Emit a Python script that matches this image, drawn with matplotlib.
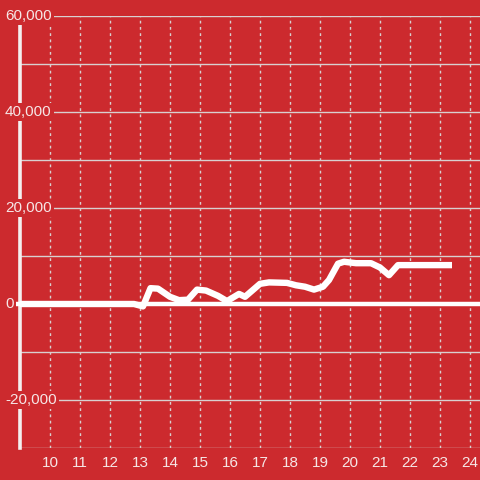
import matplotlib
matplotlib.use("Agg")
import matplotlib.pyplot as plt
import matplotlib.transforms as mtransforms

# ---- data ----
x_vals = [9.0, 12.8, 13.1, 13.35, 13.6, 14.0, 14.3, 14.6, 14.9, 15.2, 15.6, 15.9,
          16.3, 16.5, 17.0, 17.3, 17.9, 18.2, 18.5, 18.8, 19.1, 19.3, 19.6, 19.8,
          20.2, 20.7, 21.0, 21.3, 21.6, 23.4]
y_vals = [0, 0, -500, 3300, 3200, 1500, 800, 900, 3000, 2800, 1700, 600,
          2100, 1500, 4200, 4500, 4400, 3900, 3600, 3000, 3600, 5000, 8400, 8800,
          8500, 8500, 7600, 6000, 8100, 8100]
x_ticks = [10, 11, 12, 13, 14, 15, 16, 17, 18, 19, 20, 21, 22, 23, 24]
y_label_vals = [60000, 40000, 20000, 0, -20000]
y_grid_vals = [60000, 50000, 40000, 30000, 20000, 10000, -10000, -20000, -30000]

BG = "#cc2a2e"
GRID = "#d8d0d0"
TXT = "#f6e6e6"
W, H = 480, 480

fig = plt.figure(figsize=(4.8, 4.8), dpi=100, facecolor=BG)
ax = fig.add_axes([20 / W, (H - 448) / H, 460 / W, 432 / H])
ax.set_facecolor(BG)
ax.set_xlim(9, 24.333)
ax.set_ylim(-30000, 60000)

for s in ["top", "right", "bottom"]:
    ax.spines[s].set_visible(False)
ax.spines["left"].set_color("#f4f0f0")
ax.spines["left"].set_linewidth(2.6)
ax.spines["left"].set_zorder(3)

for gy in y_grid_vals:
    ax.axhline(gy, color=GRID, lw=1.0, zorder=1)
for gx in x_ticks:
    ax.axvline(gx, color=GRID, lw=1.0, ls=(0, (2, 2.5)), zorder=1)

# zero line
ax.axhline(0, xmin=-3 / 460, xmax=1, color="white", lw=3.2, zorder=4, clip_on=False)

ax.plot(x_vals, y_vals, color="white", lw=4.6, solid_joinstyle="round",
        solid_capstyle="butt", zorder=5)

ax.set_xticks(x_ticks)
ax.set_xticklabels([str(t) for t in x_ticks], color=TXT, fontsize=11,
                   family="Liberation Sans")
ax.tick_params(axis="x", length=0, pad=6)
ax.set_yticks([])

trans = mtransforms.blended_transform_factory(fig.transFigure, ax.transData)
for v in y_label_vals:
    ax.text(5 / W, v, f"{v:,}", transform=trans, ha="left", va="center",
            color=TXT, fontsize=11, family="Liberation Sans", zorder=10,
            bbox=dict(boxstyle="square,pad=0.15", fc=BG, ec="none"))

fig.savefig("out.png", dpi=100, facecolor=BG)
